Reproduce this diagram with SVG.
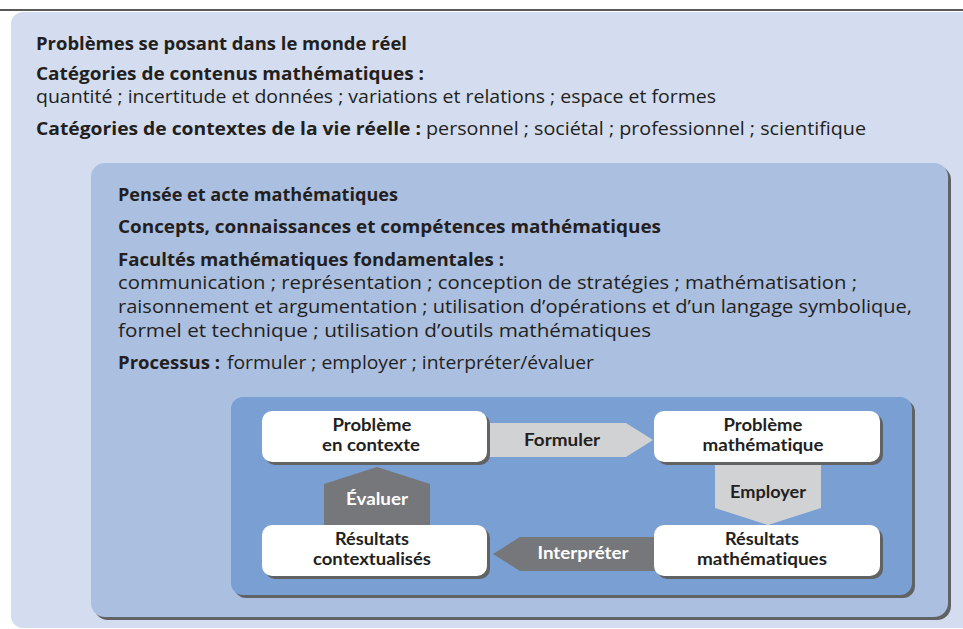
<svg xmlns="http://www.w3.org/2000/svg" width="963" height="629" viewBox="0 0 963 629">
<style>
text{font-family:"Open Sans","Noto Sans","Liberation Sans",sans-serif;fill:#231f20;font-variant-ligatures:none}
.b{font-weight:bold}
.r{font-weight:normal}
.h{font-size:17.5px}
.n{font-family:Lato,"Open Sans",sans-serif;font-size:16.5px;font-weight:bold;text-anchor:middle}
.w{fill:#ffffff}
.shadow{fill:#616264}
.node{fill:#ffffff}
.light{fill:#d1d2d4}
.dark{fill:#76777a}
</style>
<rect x="0" y="0" width="963" height="629" fill="#ffffff"/>
<line x1="0" y1="10" x2="963" y2="10" stroke="#58595b" stroke-width="2"/>

<g id="outer">
<rect x="11" y="12" width="980" height="616" rx="12" fill="#d3ddef"/>
<text class="h b" x="36" y="50" textLength="371" lengthAdjust="spacingAndGlyphs">Problèmes se posant dans le monde réel</text>
<text class="h b" x="36" y="80" textLength="388" lengthAdjust="spacingAndGlyphs">Catégories de contenus mathématiques :</text>
<text class="h r" x="36" y="103" textLength="680" lengthAdjust="spacingAndGlyphs">quantité ; incertitude et données ; variations et relations ; espace et formes</text>
<text class="h b" x="36" y="135" textLength="385" lengthAdjust="spacingAndGlyphs">Catégories de contextes de la vie réelle :</text>
<text class="h r" x="426" y="135" textLength="440" lengthAdjust="spacingAndGlyphs">personnel ; sociétal ; professionnel ; scientifique</text>
</g>

<g id="middle">
<rect class="shadow" x="94" y="166" width="857" height="454" rx="14"/>
<rect x="91" y="163" width="857" height="454" rx="14" fill="#abbfe0"/>
<text class="h b" x="118" y="201" textLength="280" lengthAdjust="spacingAndGlyphs">Pensée et acte mathématiques</text>
<text class="h b" x="118" y="233" textLength="543" lengthAdjust="spacingAndGlyphs">Concepts, connaissances et compétences mathématiques</text>
<text class="h b" x="118" y="266" textLength="386" lengthAdjust="spacingAndGlyphs">Facultés mathématiques fondamentales :</text>
<text class="h r" x="118" y="289" textLength="739" lengthAdjust="spacingAndGlyphs">communication ; représentation ; conception de stratégies ; mathématisation ;</text>
<text class="h r" x="118" y="313" textLength="794" lengthAdjust="spacingAndGlyphs">raisonnement et argumentation ; utilisation d’opérations et d’un langage symbolique,</text>
<text class="h r" x="118" y="337" textLength="533" lengthAdjust="spacingAndGlyphs">formel et technique ; utilisation d’outils mathématiques</text>
<text class="h b" x="118" y="369" textLength="102" lengthAdjust="spacingAndGlyphs">Processus :</text>
<text class="h r" x="227" y="369" textLength="367" lengthAdjust="spacingAndGlyphs">formuler ; employer ; interpréter/évaluer</text>
</g>

<g id="inner">
<rect class="shadow" x="234" y="400" width="681" height="198" rx="12"/>
<rect x="231" y="397" width="681" height="198" rx="12" fill="#7a9fd2"/>
</g>

<g id="connectors">
<g id="formuler">
<polygon class="light" points="480,423 626,423 653,440 626,457 480,457"/>
<text class="n" x="562" y="446" textLength="76" lengthAdjust="spacingAndGlyphs">Formuler</text>
</g>
<g id="employer">
<polygon class="light" points="715,460 821,460 821,508 768,525 715,508"/>
<text class="n" x="768" y="498" textLength="76" lengthAdjust="spacingAndGlyphs">Employer</text>
</g>
<g id="interpreter">
<polygon class="dark" points="660,537 520,537 493,554 520,571 660,571"/>
<text class="n w" x="583" y="559" textLength="91" lengthAdjust="spacingAndGlyphs">Interpréter</text>
</g>
<g id="evaluer">
<polygon class="dark" points="324,530 324,484 377,467 430,484 430,530"/>
<text class="n w" x="377" y="505" textLength="62" lengthAdjust="spacingAndGlyphs">Évaluer</text>
</g>
</g>

<g id="node-probleme-contexte">
<rect class="shadow" x="265" y="414" width="225" height="51" rx="10"/>
<rect class="node" x="262" y="411" width="225" height="51" rx="10"/>
<text class="n" x="372" y="431" textLength="79" lengthAdjust="spacingAndGlyphs">Problème</text>
<text class="n" x="371" y="451" textLength="98" lengthAdjust="spacingAndGlyphs">en contexte</text>
</g>
<g id="node-probleme-mathematique">
<rect class="shadow" x="657" y="414" width="226" height="51" rx="10"/>
<rect class="node" x="654" y="411" width="226" height="51" rx="10"/>
<text class="n" x="763" y="431" textLength="79" lengthAdjust="spacingAndGlyphs">Problème</text>
<text class="n" x="763" y="451" textLength="121" lengthAdjust="spacingAndGlyphs">mathématique</text>
</g>
<g id="node-resultats-contextualises">
<rect class="shadow" x="265" y="528" width="225" height="51" rx="10"/>
<rect class="node" x="262" y="525" width="225" height="51" rx="10"/>
<text class="n" x="372" y="545" textLength="74" lengthAdjust="spacingAndGlyphs">Résultats</text>
<text class="n" x="372" y="565" textLength="118" lengthAdjust="spacingAndGlyphs">contextualisés</text>
</g>
<g id="node-resultats-mathematiques">
<rect class="shadow" x="657" y="528" width="226" height="51" rx="10"/>
<rect class="node" x="654" y="525" width="226" height="51" rx="10"/>
<text class="n" x="762" y="545" textLength="74" lengthAdjust="spacingAndGlyphs">Résultats</text>
<text class="n" x="762" y="565" textLength="130" lengthAdjust="spacingAndGlyphs">mathématiques</text>
</g>
</svg>
